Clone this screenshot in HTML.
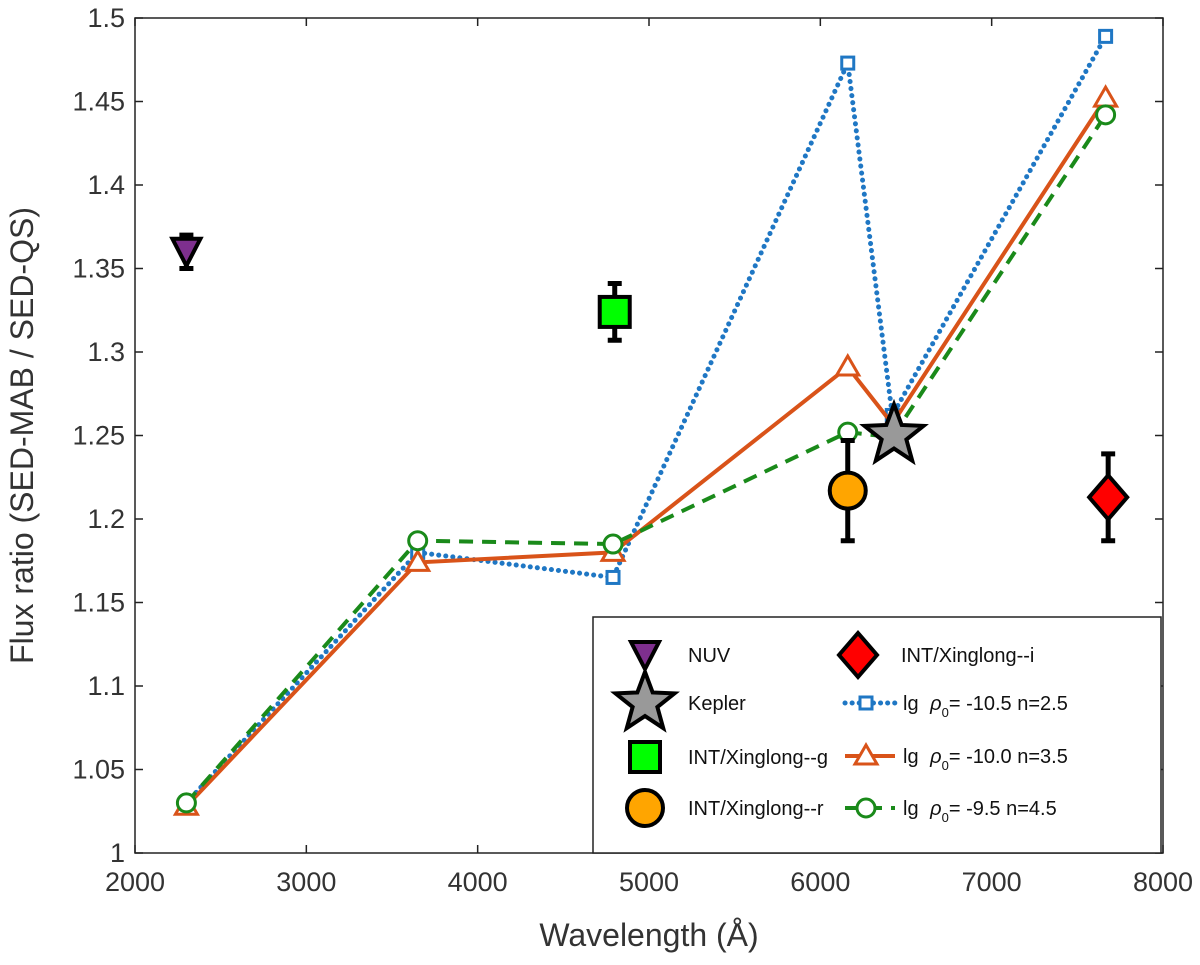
<!DOCTYPE html>
<html><head><meta charset="utf-8"><style>
body{margin:0;background:#fff;font-family:"Liberation Sans",sans-serif}
svg text{font-family:"Liberation Sans",sans-serif}
</style></head><body>
<svg id="chart" width="1200" height="960" xmlns="http://www.w3.org/2000/svg">
<g id="marks"></g>
</svg>
<script>
const xTicks=[2000,3000,4000,5000,6000,7000,8000];
const yTicks=[1,1.05,1.1,1.15,1.2,1.25,1.3,1.35,1.4,1.45,1.5];
const modelX=[2300,3650,4790,6160,6420,7665];
const blueY=[1.03,1.18,1.165,1.473,1.262,1.489];
const orangeY=[1.028,1.174,1.18,1.291,1.257,1.452];
const greenY=[1.03,1.187,1.185,1.252,1.249,1.442];
const obsNames=["NUV","INT/Xinglong--g","INT/Xinglong--r","Kepler","INT/Xinglong--i"];
const obsX=[2300,4800,6160,6430,7680];
const obsY=[1.36,1.324,1.217,1.25,1.213];
const obsErr=[0.01,0.017,0.03,0,0.026];

const L=135,R=1163,T=18,B=853;
const sx=v=>L+(v-2000)/6000*(R-L);
const sy=v=>B-(v-1)/0.5*(B-T);
const NS="http://www.w3.org/2000/svg";
const svg=document.getElementById('chart');
function mk(tag,attrs,parent){const e=document.createElementNS(NS,tag);for(const k in attrs)e.setAttribute(k,attrs[k]);(parent||svg).appendChild(e);return e;}

const frame=mk('rect',{x:L,y:T,width:R-L,height:B-T,fill:'none',stroke:'#222','stroke-width':1.5});


xTicks.forEach(t=>{
  const x=sx(t);
  const tk=mk('path',{d:`M${x},${B}v-8M${x},${T}v8`,stroke:'#222','stroke-width':1.5});
  
  
  const tx=mk('text',{x:x,y:B+38,'text-anchor':'middle','font-size':27,fill:'#333'});
  tx.textContent=t;
  
  
});
yTicks.forEach(t=>{
  const y=sy(t);
  const tk=mk('path',{d:`M${L},${y}h8M${R},${y}h-8`,stroke:'#222','stroke-width':1.5});
  
  
  const tx=mk('text',{x:L-10,y:y+9,'text-anchor':'end','font-size':27,fill:'#333'});
  tx.textContent=String(t);
  
  
});
const xt=mk('text',{x:(L+R)/2,y:946,'text-anchor':'middle','font-size':32,fill:'#333'});
xt.textContent='Wavelength (Å)';


const yt=mk('text',{x:0,y:0,'text-anchor':'middle','font-size':32,fill:'#333',transform:`translate(33,${(T+B)/2}) rotate(-90)`});
yt.textContent='Flux ratio (SED-MAB / SED-QS)';



function marker(type,x,y,color,parent){
  if(type==='sq') return mk('rect',{x:x-6,y:y-6,width:12,height:12,fill:'#fff',stroke:color,'stroke-width':3},parent);
  if(type==='tri') return mk('path',{d:`M${x},${y-11}L${x+11},${y+8}L${x-11},${y+8}Z`,fill:'#fff',stroke:color,'stroke-width':3},parent);
  return mk('circle',{cx:x,cy:y,r:9,fill:'#fff',stroke:color,'stroke-width':3},parent);
}
const series=[
 {n:'blue',y:blueY,c:'#1f77c4',dash:'0.1,7',cap:'round',w:5,m:'sq'},
 {n:'orange',y:orangeY,c:'#d95319',dash:'',cap:'butt',w:4,m:'tri'},
 {n:'green',y:greenY,c:'#1a8a1a',dash:'14,9',cap:'butt',w:4,m:'circ'}];
series.forEach(s=>{
  const g=mk('g',{});
  
  
  const d=modelX.map((v,i)=>(i?'L':'M')+sx(v)+','+sy(s.y[i])).join('');
  mk('path',{d:d,fill:'none',stroke:s.c,'stroke-width':s.w,'stroke-dasharray':s.dash,'stroke-linecap':s.cap},g);
  modelX.forEach((v,i)=>marker(s.m,sx(v),sy(s.y[i]),s.c,g));
});
function star(x,y,r){let p='';for(let i=0;i<10;i++){const a=-Math.PI/2+i*Math.PI/5,rr=i%2?r*0.42:r;p+=(i?'L':'M')+(x+rr*Math.cos(a))+','+(y+rr*Math.sin(a));}return p+'Z';}
const obsStyle=[
 (x,y,g)=>mk('path',{d:`M${x-14},${y-13}L${x+14},${y-13}L${x},${y+14}Z`,fill:'#7e2f8e',stroke:'#000','stroke-width':4},g),
 (x,y,g)=>mk('rect',{x:x-15,y:y-15,width:30,height:30,fill:'#00ff00',stroke:'#000','stroke-width':4},g),
 (x,y,g)=>mk('circle',{cx:x,cy:y,r:18,fill:'#ffa500',stroke:'#000','stroke-width':4},g),
 (x,y,g)=>mk('path',{d:star(x,y,31),fill:'#999',stroke:'#000','stroke-width':4},g),
 (x,y,g)=>mk('path',{d:`M${x},${y-22}L${x+19},${y}L${x},${y+22}L${x-19},${y}Z`,fill:'#ff0000',stroke:'#000','stroke-width':4},g)];
obsX.forEach((v,i)=>{
  const g=mk('g',{});
  
  
  const x=sx(v),y=sy(obsY[i]);
  if(obsErr[i]>0){
    const y1=sy(obsY[i]+obsErr[i]),y2=sy(obsY[i]-obsErr[i]);
    mk('path',{d:`M${x},${y1}V${y2}M${x-7},${y1}h14M${x-7},${y2}h14`,stroke:'#000','stroke-width':5},g);
  }
  obsStyle[i](x,y,g);
});
const lg=mk('g',{});


mk('rect',{x:593,y:617,width:568,height:236,fill:'#fff',stroke:'#222','stroke-width':1.5},lg);
const lrows=[655,703,757,808];
[0,3,1,2].forEach((oi,r)=>{
  obsStyle[oi](645,lrows[r],lg);
  const t=mk('text',{x:688,y:lrows[r]+7,'font-size':20,fill:'#111'},lg);t.textContent=obsNames[oi];
});
obsStyle[4](858,655,lg);
const ti=mk('text',{x:901,y:662,'font-size':20,fill:'#111'},lg);ti.textContent=obsNames[4];
const labs=[['-10.5','2.5'],['-10.0','3.5'],['-9.5','4.5']];
series.forEach((s,i)=>{
  const y=[703,756,808][i];
  mk('path',{d:`M845,${y}H895`,stroke:s.c,'stroke-width':s.w,'stroke-dasharray':s.dash,'stroke-linecap':s.cap},lg);
  marker(s.m,866,y,s.c,lg);
  const t=mk('text',{x:903,y:y+7,'font-size':20,fill:'#111'},lg);
  t.innerHTML=`lg <tspan font-style="italic" dx="6">ρ</tspan><tspan font-size="13" dy="7">0</tspan><tspan dy="-7">= ${labs[i][0]} n=${labs[i][1]}</tspan>`;
});
</script>
</body></html>
